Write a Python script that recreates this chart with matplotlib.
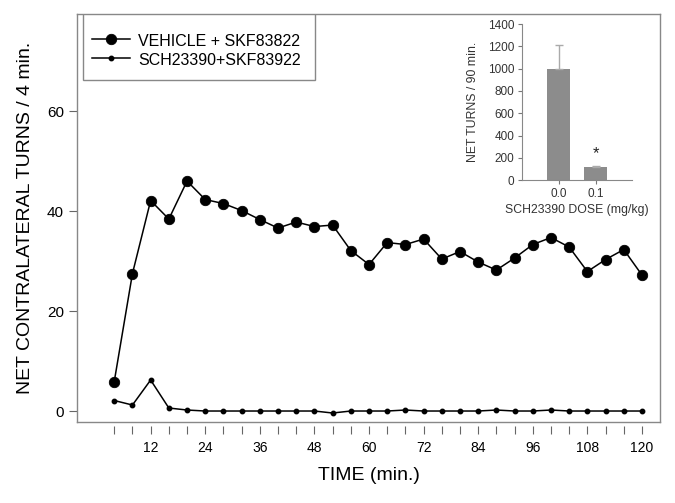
import matplotlib
matplotlib.use("Agg")
import matplotlib.pyplot as plt
from matplotlib.lines import Line2D
from matplotlib.patches import Rectangle
import numpy as np

plt.rcParams['font.family'] = ['Liberation Sans', 'DejaVu Sans']

time_min = [4, 8, 12, 16, 20, 24, 28, 32, 36, 40, 44, 48, 52, 56, 60,
            64, 68, 72, 76, 80, 84, 88, 92, 96, 100, 104, 108, 112, 116, 120]
vehicle = [5.9, 27.5, 42.1, 38.4, 46.0, 42.3, 41.5, 40.1, 38.3, 36.6, 37.8, 36.9, 37.2, 32.1, 29.3,
           33.7, 33.3, 34.4, 30.4, 31.9, 29.8, 28.2, 30.6, 33.3, 34.7, 32.8, 27.9, 30.3, 32.3, 27.2]
sch = [2.1, 1.2, 6.2, 0.6, 0.2, 0.0, 0.0, 0.0, 0.0, 0.0, 0.0, 0.0, -0.4, 0.0, 0.0,
       0.0, 0.2, 0.0, 0.0, 0.0, 0.0, 0.2, 0.0, 0.0, 0.2, 0.0, 0.0, 0.0, 0.0, 0.0]

xtick_labels = [12, 24, 36, 48, 60, 72, 84, 96, 108, 120]
ytick_vals = [0, 20, 40, 60]

inset_doses = ["0.0", "0.1"]
inset_turns = [1000, 120]
inset_err = [210, 10]

fig = plt.figure(figsize=(6.75, 5.03), dpi=100)
ax = fig.add_axes([0.114, 0.161, 0.864, 0.811])

ax.plot(time_min, vehicle, color='black', lw=1.1, marker='o', ms=7.5, mew=0.6,
        label='VEHICLE + SKF83822')
ax.plot(time_min, sch, color='black', lw=1.1, marker='o', ms=3.2,
        label='SCH23390+SKF83922')

ax.set_xlim(-4.2, 124)
ax.set_ylim(-2.2, 79.4)
ax.set_xticks(time_min, minor=True)
ax.set_xticks(xtick_labels)
ax.set_xticklabels([str(v) for v in xtick_labels], fontsize=11)
ax.set_yticks(ytick_vals)
ax.set_yticklabels([str(v) for v in ytick_vals], fontsize=11)
ax.tick_params(axis='both', which='both', direction='out', length=6, width=0.8, color='#666666')
ax.tick_params(axis='x', which='major', pad=5)
for s in ax.spines.values():
    s.set_color('#888888')
    s.set_linewidth(1.0)
# ticks on the x axis sit slightly below the frame line
ax.spines['bottom'].set_position(('outward', 3))
ax.spines['bottom'].set_visible(False)
ax.add_line(Line2D([0, 1], [0, 0], transform=ax.transAxes, color='#888888', lw=1.0,
                   clip_on=False))

ax.set_xlabel('TIME (min.)', fontsize=14, labelpad=8)
ax.set_ylabel('NET CONTRALATERAL TURNS / 4 min.', fontsize=14, labelpad=9)

# legend box drawn separately so its padding matches the original
ax.add_patch(Rectangle((0.0098, 0.838), 0.398, 0.162, transform=ax.transAxes,
                       facecolor='white', edgecolor='#888888', lw=1.0, zorder=4))
leg = ax.legend(loc='upper left', bbox_to_anchor=(0.0257, 0.956), borderaxespad=0.0,
                fontsize=11.5, frameon=False, borderpad=0.0, handlelength=2.4,
                handletextpad=0.5, labelspacing=0.15, handleheight=1.25)
leg.set_zorder(5)

# inset
iax = fig.add_axes([0.773, 0.642, 0.164, 0.310])
xpos = np.arange(len(inset_doses))
iax.bar(xpos, inset_turns, width=0.62, color='#8c8c8c')
iax.errorbar(xpos, inset_turns, yerr=[[0, 0], inset_err], fmt='none',
             ecolor='#aaaaaa', elinewidth=1.0, capsize=3)
iax.text(xpos[1], inset_turns[1] + inset_err[1] + 40, '*', ha='center', va='bottom',
         fontsize=12, color='#222222')
iax.set_xlim(-1, 2)
iax.set_ylim(0, 1400)
iax.set_yticks(np.arange(0, 1401, 200))
iax.set_xticks(xpos)
iax.set_xticklabels(inset_doses)
iax.tick_params(labelsize=8.5, direction='out', length=3, color='#777777', labelcolor='#333333',
                pad=2.5)
iax.spines['top'].set_visible(False)
iax.spines['right'].set_visible(False)
for s in ('left', 'bottom'):
    iax.spines[s].set_color('#888888')
iax.set_ylabel('NET TURNS / 90 min.', fontsize=8.8, color='#333333', labelpad=6)
iax.set_xlabel('SCH23390 DOSE (mg/kg)', fontsize=8.8, color='#333333', labelpad=3)

fig.savefig('out.png', dpi=100)
